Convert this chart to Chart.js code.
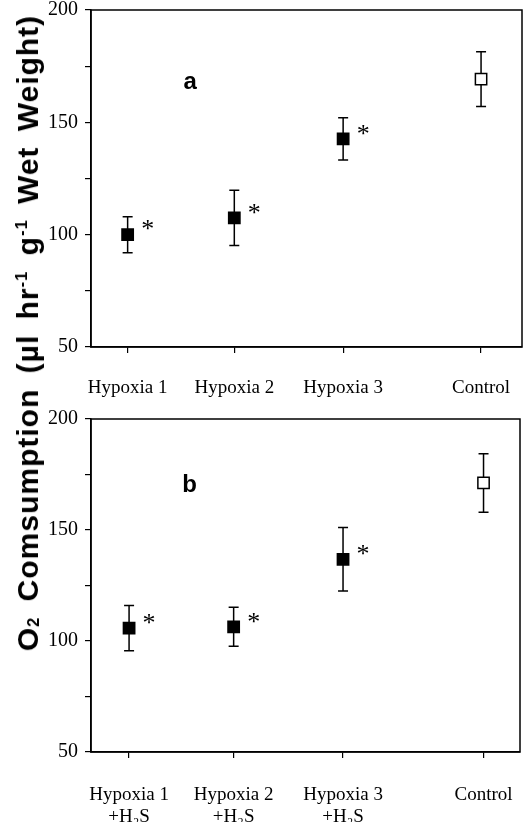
<!DOCTYPE html>
<html>
<head>
<meta charset="utf-8">
<script src="https://cdn.jsdelivr.net/npm/chart.js@4"></script>
<style>
  body { margin: 0; background: #fff; }
  #wrap { position: relative; width: 525px; height: 822px; }
  #boxA { position: absolute; left: 0; top: 0; width: 525px; height: 405px; }
  #boxB { position: absolute; left: 0; top: 405px; width: 525px; height: 417px; }
  #ytitle {
    position: absolute; left: 28px; top: 333px;
    transform: translate(-50%, -50%) rotate(-90deg);
    white-space: nowrap;
    font: bold 30px "Liberation Sans", Arial, sans-serif;
    letter-spacing: 1px;
    word-spacing: 6px;
    color: #000;
  }
  #ytitle sub, #ytitle sup { font-size: 0.55em; }
  #ytitle sub { vertical-align: -0.05em; }
</style>
</head>
<body>
<div id="wrap">
  <div id="boxA"><canvas id="chartA"></canvas></div>
  <div id="boxB"><canvas id="chartB"></canvas></div>
  <div id="ytitle">O<sub>2</sub> Comsumption (µl hr<sup>-1</sup> g<sup>-1</sup> Wet Weight)</div>
</div>
<script>
// panel a
const labelsA = ['Hypoxia 1', 'Hypoxia 2', 'Hypoxia 3', 'Control']
const xA = [0.34, 1.33, 2.34, 3.62]
const meanA = [100, 107.5, 142.6, 169.2]
const errA = [8, 12.3, 9.4, 12.2]
const sigA = [true, true, true, false]

// panel b
const labelsB = [['Hypoxia 1', '+H₂S'], ['Hypoxia 2', '+H₂S'], ['Hypoxia 3', '+H₂S'], 'Control']
const xB = [0.355, 1.33, 2.35, 3.66]
const meanB = [105.8, 106.4, 136.8, 171.2]
const errB = [10.2, 8.8, 14.3, 13.2]
const sigB = [true, true, true, false]

const serif = '"Liberation Serif", "Times New Roman", serif'

const panelPlugin = {
  id: 'panel',
  beforeDatasetsDraw(chart, args, opts) {
    const { ctx, chartArea: a, scales: { x, y } } = chart
    ctx.save()
    ctx.strokeStyle = '#000'
    ctx.lineWidth = 1.5
    ctx.strokeRect(a.left, a.top, a.right - a.left, a.bottom - a.top)
    // error bars
    opts.xs.forEach((xv, i) => {
      const px = x.getPixelForValue(xv)
      const hi = y.getPixelForValue(opts.means[i] + opts.errs[i])
      const lo = y.getPixelForValue(opts.means[i] - opts.errs[i])
      ctx.beginPath()
      ctx.moveTo(px, hi); ctx.lineTo(px, lo)
      ctx.moveTo(px - 5, hi); ctx.lineTo(px + 5, hi)
      ctx.moveTo(px - 5, lo); ctx.lineTo(px + 5, lo)
      ctx.stroke()
    })
    ctx.restore()
  },
  afterDatasetsDraw(chart, args, opts) {
    const { ctx, chartArea: a, scales: { x, y } } = chart
    ctx.save()
    ctx.fillStyle = '#000'
    ctx.textBaseline = 'middle'
    ctx.textAlign = 'center'
    ctx.font = '26px ' + serif
    opts.sig.forEach((s, i) => {
      if (!s) return
      ctx.fillText('*', x.getPixelForValue(opts.xs[i]) + 20, y.getPixelForValue(opts.means[i]) - 4)
    })
    ctx.font = 'bold 24px "Liberation Sans", Arial, sans-serif'
    ctx.fillText(opts.letter, a.left + 0.23 * (a.right - a.left), a.top + opts.letterY * (a.bottom - a.top))
    ctx.restore()
  }
}

function makeChart(id, labels, xs, means, errs, sig, letter, letterY, padTop, axisH, padRight, xPad) {
  return new Chart(document.getElementById(id), {
    type: 'scatter',
    data: {
      datasets: [{
        data: xs.map((v, i) => ({ x: v, y: means[i] })),
        pointStyle: 'rect',
        pointRadius: 8,
        pointHoverRadius: 8,
        borderColor: '#000',
        borderWidth: 1.5,
        backgroundColor: sig.map(s => s ? '#000' : '#fff'),
      }]
    },
    options: {
      responsive: true,
      maintainAspectRatio: false,
      animation: false,
      layout: { autoPadding: false, padding: { top: padTop, right: padRight, left: 0, bottom: 0 } },
      plugins: {
        legend: { display: false },
        tooltip: { enabled: false },
        panel: { xs, means, errs, sig, letter, letterY },
      },
      scales: {
        x: {
          type: 'linear',
          min: 0,
          max: 4,
          afterBuildTicks: s => { s.ticks = xs.map(v => ({ value: v })) },
          afterFit: s => { s.height = axisH; s.paddingLeft = 0; s.paddingRight = 0 },
          border: { color: '#000', width: 1.5 },
          grid: { drawOnChartArea: false, tickLength: 6, color: '#000', lineWidth: 1.2 },
          ticks: {
            autoSkip: false,
            maxRotation: 0,
            padding: xPad,
            color: '#000',
            font: { family: serif, size: 19, lineHeight: 1.15 },
            callback: (v, i) => labels[i],
          }
        },
        y: {
          min: 50,
          max: 200,
          afterFit: s => { s.width = 91; s.paddingTop = 0; s.paddingBottom = 0 },
          border: { color: '#000', width: 1.5 },
          grid: { drawOnChartArea: false, tickLength: 6, color: '#000', lineWidth: 1.2 },
          ticks: {
            stepSize: 25,
            padding: 7,
            color: '#000',
            font: { family: serif, size: 20 },
            callback: v => (v % 50 === 0 ? v : ''),
          }
        }
      }
    },
    plugins: [panelPlugin]
  })
}

makeChart('chartA', labelsA, xA, meanA, errA, sigA, 'a', 0.214, 10, 58, 3, 24)
makeChart('chartB', labelsB, xB, meanB, errB, sigB, 'b', 0.198, 14, 70, 5, 26)
</script>
</body>
</html>
